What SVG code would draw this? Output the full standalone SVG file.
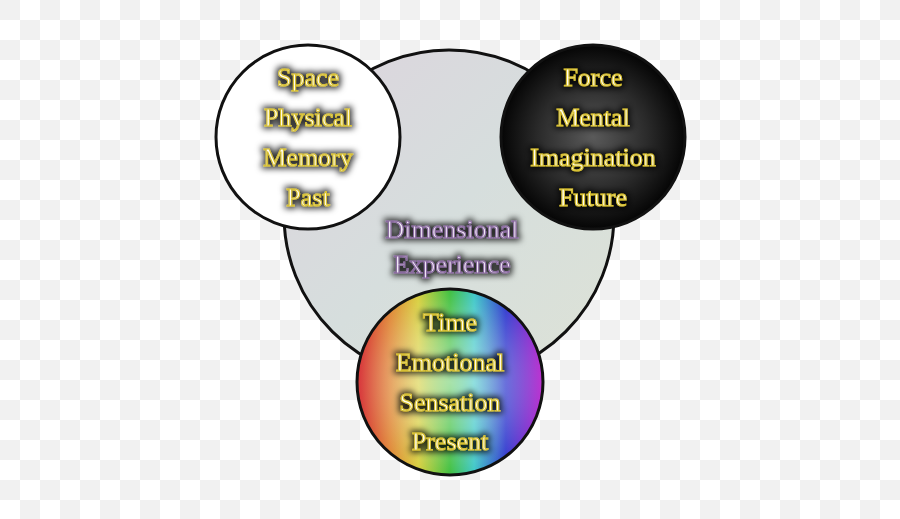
<svg xmlns="http://www.w3.org/2000/svg" width="900" height="519" viewBox="0 0 900 519">
<defs>
<pattern id="chk" width="40" height="40" patternUnits="userSpaceOnUse"><rect width="40" height="40" fill="#ffffff"/><rect width="20" height="20" fill="#f1f1f1"/><rect x="20" y="20" width="20" height="20" fill="#f1f1f1"/></pattern>
<linearGradient id="big" x1="0" y1="0" x2="1" y2="1"><stop offset="0" stop-color="#ddd4dd"/><stop offset="0.5" stop-color="#d6dedd"/><stop offset="1" stop-color="#dde2d6"/></linearGradient>
<radialGradient id="blk" cx="0.5" cy="0.5" r="0.5"><stop offset="0" stop-color="#5a5a5a"/><stop offset="0.6" stop-color="#2a2a2a"/><stop offset="1" stop-color="#050505"/></radialGradient>
<linearGradient id="rb" x1="0" y1="0" x2="1" y2="0"><stop offset="0.02" stop-color="#d83a3a"/><stop offset="0.18" stop-color="#e08a3a"/><stop offset="0.33" stop-color="#d8d040"/><stop offset="0.5" stop-color="#40c040"/><stop offset="0.63" stop-color="#40c8c8"/><stop offset="0.8" stop-color="#3840d0"/><stop offset="1" stop-color="#c030d0"/></linearGradient>
<radialGradient id="wh" cx="0.5" cy="0.5" r="0.5"><stop offset="0" stop-color="#fff" stop-opacity="0.55"/><stop offset="0.6" stop-color="#fff" stop-opacity="0.25"/><stop offset="1" stop-color="#fff" stop-opacity="0"/></radialGradient>
<filter id="glow" x="-20%" y="-40%" width="140%" height="180%"><feMorphology in="SourceAlpha" operator="dilate" radius="2" result="d"/><feGaussianBlur in="d" stdDeviation="3" result="b"/><feFlood flood-color="#000" flood-opacity="0.8"/><feComposite in2="b" operator="in" result="s"/><feMerge><feMergeNode in="s"/><feMergeNode in="SourceGraphic"/></feMerge></filter>
</defs>
<style>
.t{font-family:"Liberation Serif","Times New Roman",serif;font-size:26px;text-anchor:middle;fill:#fffdf0;stroke:#d8c030;stroke-width:1;filter:url(#glow)}
.p{fill:#f0e8f5;stroke:#8a6aa0}
.c{stroke:#111;stroke-width:3}
</style>
<rect width="900" height="519" fill="url(#chk)"/>
<g id="dimensional"><circle class="c" cx="449" cy="215" r="165" fill="url(#big)"/>
<text class="t p" x="452" y="238">Dimensional</text><text class="t p" x="452" y="273">Experience</text></g>
<g id="space"><circle class="c" cx="308" cy="137" r="92" fill="#fff"/>
<text class="t" x="308" y="86">Space</text><text class="t" x="308" y="126">Physical</text><text class="t" x="308" y="166">Memory</text><text class="t" x="308" y="206">Past</text></g>
<g id="force"><circle class="c" cx="593" cy="137" r="92" fill="url(#blk)"/>
<text class="t" x="593" y="86">Force</text><text class="t" x="593" y="126">Mental</text><text class="t" x="593" y="166">Imagination</text><text class="t" x="593" y="206">Future</text></g>
<g id="time"><circle cx="450" cy="382" r="93" fill="url(#rb)"/><circle class="c" cx="450" cy="382" r="93" fill="url(#wh)"/>
<text class="t" x="450" y="331">Time</text><text class="t" x="450" y="371">Emotional</text><text class="t" x="450" y="411">Sensation</text><text class="t" x="450" y="450">Present</text></g>
<g id="connectors"/>
</svg>
